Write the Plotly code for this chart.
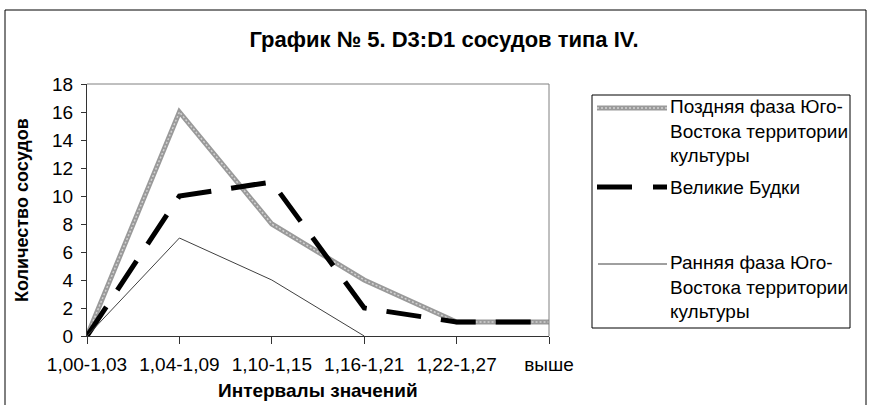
import plotly.graph_objects as go

categories = ["1,00-1,03", "1,04-1,09", "1,10-1,15", "1,16-1,21", "1,22-1,27", "выше"]
late_phase = [0, 16, 8, 4, 1, 1]
velikie_budki = [0, 10, 11, 2, 1, 1]
early_phase = [0, 7, 4, 0, None, None]

names = [
    "Поздняя фаза Юго-<br>Востока территории<br>культуры",
    "Великие Будки",
    "Ранняя фаза Юго-<br>Востока территории<br>культуры",
]
y_ticks = list(range(0, 19, 2))

W, H = 869, 405
L, R, T, B = 87, 549, 84, 336


def px(x):
    return (x - L) / (R - L)


def py(y):
    return (B - y) / (B - T)


FONT = "Liberation Sans, Arial, sans-serif"
xs = list(range(len(categories)))

fig = go.Figure()
fig.add_trace(go.Scatter(x=xs, y=late_phase, mode="lines",
                         line=dict(color="#9a9a9a", width=5),
                         cliponaxis=False, showlegend=False, hoverinfo="skip"))
fig.add_trace(go.Scatter(x=xs, y=late_phase, mode="lines",
                         line=dict(color="#d2d2d2", width=1.5, dash="2px,2px"),
                         cliponaxis=False, showlegend=False, hoverinfo="skip"))
fig.add_trace(go.Scatter(x=xs, y=velikie_budki, mode="lines",
                         line=dict(color="black", width=5, dash="35px,20px"),
                         cliponaxis=False, showlegend=False, hoverinfo="skip"))
fig.add_trace(go.Scatter(x=xs, y=early_phase, mode="lines",
                         line=dict(color="#404040", width=1),
                         cliponaxis=False, showlegend=False, hoverinfo="skip"))

shapes = []
annotations = []
# outer chart border
shapes.append(dict(type="rect", xref="paper", yref="paper",
                   x0=px(5), x1=px(866), y0=py(410), y1=py(10),
                   line=dict(color="black", width=1), layer="below"))
# plot area top/right border (gray)
shapes.append(dict(type="line", xref="paper", yref="paper",
                   x0=0, x1=1, y0=1, y1=1, line=dict(color="#808080", width=1)))
shapes.append(dict(type="line", xref="paper", yref="paper",
                   x0=1, x1=1, y0=0, y1=1, line=dict(color="#808080", width=1)))
# legend box
shapes.append(dict(type="rect", xref="paper", yref="paper",
                   x0=px(592), x1=px(850), y0=py(328), y1=py(95),
                   line=dict(color="black", width=1)))
# legend symbols
shapes.append(dict(type="line", xref="paper", yref="paper",
                   x0=px(597), x1=px(667), y0=py(108), y1=py(108),
                   line=dict(color="#9a9a9a", width=5)))
shapes.append(dict(type="line", xref="paper", yref="paper",
                   x0=px(597), x1=px(667), y0=py(108), y1=py(108),
                   line=dict(color="#d2d2d2", width=1.5, dash="2px,2px")))
shapes.append(dict(type="line", xref="paper", yref="paper",
                   x0=px(597), x1=px(667), y0=py(187), y1=py(187),
                   line=dict(color="black", width=5, dash="35px,21px")))
shapes.append(dict(type="line", xref="paper", yref="paper",
                   x0=px(598), x1=px(667), y0=py(264), y1=py(264),
                   line=dict(color="#404040", width=1)))

legend_y = [131, 187, 287]
for nm, yy in zip(names, legend_y):
    annotations.append(dict(xref="paper", yref="paper", x=px(668), y=py(yy),
                            xanchor="left", yanchor="middle", align="left",
                            text=nm, showarrow=False,
                            font=dict(family=FONT, size=19, color="black")))

# axis titles
annotations.append(dict(xref="paper", yref="paper", x=px(318), y=py(390),
                        xanchor="center", yanchor="middle",
                        text="<b>Интервалы значений</b>", showarrow=False,
                        font=dict(family=FONT, size=19, color="black")))
annotations.append(dict(xref="paper", yref="paper", x=px(22), y=py(210),
                        xanchor="center", yanchor="middle", textangle=-90,
                        text="<b>Количество сосудов</b>", showarrow=False,
                        font=dict(family=FONT, size=18, color="black")))

fig.update_layout(
    width=W, height=H,
    margin=dict(l=L, r=W - R, t=T, b=H - B),
    paper_bgcolor="white", plot_bgcolor="white",
    title=dict(text="<b>График № 5. D3:D1 сосудов типа IV.</b>",
               x=px(444), xref="paper", xanchor="center",
               y=1 - 39 / H, yanchor="middle",
               font=dict(family=FONT, size=22, color="black")),
    xaxis=dict(range=[0, len(categories) - 1], tickvals=xs, ticktext=categories,
               showgrid=False, zeroline=False, showline=True,
               linecolor="#333333", linewidth=1,
               ticks="outside", ticklen=7, tickcolor="#333333",
               ticklabelstandoff=4,
               tickfont=dict(family=FONT, size=19, color="black")),
    yaxis=dict(range=[0, 18], tickvals=y_ticks,
               showgrid=False, zeroline=False, showline=True,
               linecolor="#333333", linewidth=1,
               ticks="outside", ticklen=5, tickcolor="#333333",
               ticklabelstandoff=4,
               tickfont=dict(family=FONT, size=19, color="black")),
    shapes=shapes, annotations=annotations,
    showlegend=False,
)

fig.write_html("out.html", config={"displayModeBar": False},
               post_script="document.body.style.margin='0px';")
